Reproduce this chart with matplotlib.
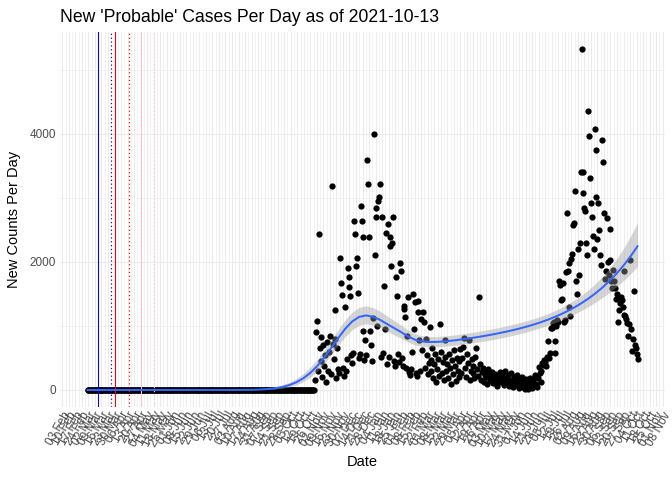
import numpy as np
import pandas as pd
import matplotlib
matplotlib.use("Agg")
import matplotlib.pyplot as plt
import matplotlib.dates as mdates
from matplotlib.ticker import FixedLocator

plt.rcParams["font.family"] = ["Liberation Sans", "DejaVu Sans"]

# ---------------- data ----------------
start_date = "2020-03-01"
title_text = "New 'Probable' Cases Per Day as of 2021-10-13"
n_zero_days = 244  # no probable cases reported before the autumn 2020 wave

wave_s1 = [150, 900, 1070, 300, 2440, 650, 450, 820, 200, 700, 380, 550, 120,
           750, 300, 600, 850, 250, 3180, 720, 480, 1255, 800, 180, 650, 330,
           260, 2067, 1677, 1489, 350, 220, 1302, 300]
wave_s2 = [480, 1911, 1770, 1614, 1469, 550, 420, 580, 2640, 2443, 1942, 2067,
           1520, 500, 560, 2880, 2640, 2390, 927, 470, 781, 540, 3590, 3214,
           2390, 927, 703, 450, 1130, 3990, 2100, 2700, 2840, 1005, 2948, 3020,
           3214, 520]
wave_s3 = [2700, 580, 1620, 948, 2458, 400, 2590, 520, 2250, 2395, 1937, 2302,
           2708, 450, 380, 1770, 1474, 560, 430, 1990, 1865, 500, 370, 1312,
           1270, 1146, 340, 844, 1458, 280, 230, 330, 600, 1505, 948, 1380, 260,
           210, 1223, 1395, 781, 300, 1109]
wave_s4 = [620, 1223, 1068, 350, 792, 550, 250, 420, 980, 470, 300, 650, 180,
           400, 560, 120, 330, 480, 210, 1031, 600, 260, 440, 150, 520, 781, 300,
           410, 180, 560, 350, 90, 470, 250, 620, 380, 140, 500, 300, 200, 450,
           640, 260]
wave_s5 = [500, 677, 812, 350, 200, 560, 420, 781, 150, 300, 480, 260, 380, 180,
           520, 651, 330, 220, 1448, 410, 160, 280, 350, 120, 240, 300, 200, 90,
           330, 260, 150, 220, 280, 110, 190, 250, 140, 60, 210, 170, 280, 120,
           200]
wave_s6 = [250, 150, 80, 300, 180, 120, 230, 60, 160, 260, 100, 40, 200, 140, 70,
           180, 230, 100, 30, 150, 90, 200, 50, 120, 10, 170, 80, 140, 20, 60,
           190, 110, 30, 160, 70, 230, 100, 50, 180, 364, 260, 300, 120]
wave_s7 = [417, 390, 460, 442, 380, 520, 770, 495, 583, 974, 964, 1052, 1068,
           583, 770, 1000, 1100, 1068, 1708, 1640, 1406, 1422, 1667, 1068, 1100,
           1839, 2760, 1864, 1980, 1300, 1150, 2042, 2125, 2578, 2614, 3114,
           1700, 1500, 2200, 1800, 2300, 3411, 5328]
wave_s8 = [3411, 3083, 2839, 2797, 2300, 2100, 4349, 3969, 3307, 2927, 2708,
           2400, 2200, 4073, 3740, 3020, 2359, 2927, 2500, 2100, 1950, 3896,
           3567, 2770, 1730, 1850, 2683, 2000, 1797, 2515, 2031, 1700]
wave_s9 = [1589, 1875, 1700, 1589, 1417, 1500, 1068, 1250, 1350, 1458, 1406,
           1300, 1172, 1864, 1150, 1104, 1050, 849, 1031, 2031, 950, 615, 800,
           1547, 700, 650, 560, 484]

event_dates = ["2020-03-12", "2020-03-31", "2020-04-27"]
event_colors = ["blue", "red", "pink"]
lag_days = 14

new_cases = ([0] * n_zero_days + wave_s1 + wave_s2 + wave_s3 + wave_s4 +
             wave_s5 + wave_s6 + wave_s7 + wave_s8 + wave_s9)
dates = pd.date_range(start_date, periods=len(new_cases), freq="D")
y = np.asarray(new_cases, dtype=float)

# ---------------- local quasi-Poisson quadratic smoother (log link) ----------------
t = (dates - dates[0]).days.values.astype(float)
n = len(t)
span = 0.85
q = int(np.floor(span * n))


def local_fit(x0):
    d = np.abs(t - x0)
    h = np.sort(d)[q - 1] * 1.0000001
    w = np.where(d < h, (1 - (d / h) ** 3) ** 3, 0.0)
    s = (t - x0) / h
    X = np.column_stack([np.ones(n), s, s ** 2])
    beta = np.array([np.log(np.sum(w * y) / np.sum(w) + 1.0), 0.0, 0.0])

    def ll(b):
        e = np.clip(X @ b, -60, 25)
        return np.sum(w * (y * e - np.exp(e)))

    cur = ll(beta)
    for _ in range(200):
        e = np.clip(X @ beta, -60, 25)
        mu = np.exp(e)
        g = X.T @ (w * (y - mu))
        H = X.T @ ((w * mu)[:, None] * X) + 1e-9 * np.eye(3)
        step_dir = np.linalg.solve(H, g)
        st = 1.0
        new = ll(beta + st * step_dir)
        while new < cur and st > 1e-6:
            st /= 2
            new = ll(beta + st * step_dir)
        beta = beta + st * step_dir
        if abs(new - cur) < 1e-10 * max(1.0, abs(cur)):
            cur = new
            break
        cur = new
    e = np.clip(X @ beta, -60, 25)
    mu = np.exp(e)
    H = X.T @ ((w * mu)[:, None] * X) + 1e-9 * np.eye(3)
    Hi = np.linalg.inv(H)
    M = X.T @ ((w ** 2 * mu)[:, None] * X)
    var0 = (Hi @ M @ Hi)[0, 0]
    return beta[0], var0


eta_data = np.array([local_fit(x0)[0] for x0 in t])
mu_data = np.exp(eta_data)
phi = np.sum((y - mu_data) ** 2 / np.maximum(mu_data, 1e-6)) / (n - 8)
phi = min(phi, 5000.0)

grid_t = np.linspace(t.min(), t.max(), 80)
res_g = [local_fit(x0) for x0 in grid_t]
eta_g = np.array([r[0] for r in res_g])
se_g = np.sqrt(phi * np.array([r[1] for r in res_g]))
fit = np.exp(eta_g)
lo = np.exp(eta_g - 1.96 * se_g)
hi = np.exp(eta_g + 1.96 * se_g)
grid_dates = dates[0] + pd.to_timedelta(grid_t, unit="D")

# ---------------- plot ----------------
fig = plt.figure(figsize=(7, 5), dpi=96)
ax = fig.add_axes([60 / 672, 1 - 407 / 480, 605 / 672, (407 - 31.7) / 480])

ax.scatter(dates, y, s=22, c="black", linewidths=0, zorder=3)

for d, c in zip(event_dates, event_colors):
    d0 = pd.Timestamp(d)
    ax.axvline(d0, color=c, lw=0.8, zorder=4)
    ax.axvline(d0 + pd.Timedelta(days=lag_days), color=c, lw=0.9,
               ls=(0, (1, 2.2)), zorder=4)

ax.fill_between(grid_dates, lo, hi, color="#999999", alpha=0.4, lw=0, zorder=5)
ax.plot(grid_dates, fit, color="#3366FF", lw=1.5, zorder=6)

# limits with ggplot-like 5% expansion around the observed counts
spanx = len(y) - 1
xmin = dates[0] - pd.Timedelta(days=0.05 * spanx)
xmax = dates[-1] + pd.Timedelta(days=0.05 * spanx)
ax.set_xlim(xmin, xmax)
yr = y.max() - y.min()
ax.set_ylim(y.min() - 0.05 * yr, y.max() + 0.05 * yr)

majors = pd.date_range(xmin.normalize(), xmax, freq="W-MON")
minors = [m - pd.Timedelta(hours=84) for m in majors] + [majors[-1] + pd.Timedelta(hours=84)]
minors = [m for m in minors if xmin <= m <= xmax]
ax.xaxis.set_major_locator(FixedLocator(mdates.date2num(majors)))
ax.xaxis.set_minor_locator(FixedLocator(mdates.date2num(minors)))
ax.xaxis.set_major_formatter(mdates.DateFormatter("%d %b"))
ax.set_yticks([0, 2000, 4000])
ax.set_yticks([1000, 3000, 5000], minor=True)
ax.set_yticklabels(["0", "2000", "4000"])

ax.grid(True, which="major", color="#EBEBEB", lw=0.8, zorder=0)
ax.grid(True, which="minor", color="#EBEBEB", lw=0.45, zorder=0)
ax.set_axisbelow(True)
for s in ax.spines.values():
    s.set_visible(False)
ax.tick_params(which="both", length=0)
ax.tick_params(axis="y", labelsize=8.8, labelcolor="#4D4D4D", pad=3)
ax.tick_params(axis="x", labelsize=8.8, labelcolor="#4D4D4D", pad=2)
for lab in ax.get_xticklabels():
    lab.set_rotation(60)
    lab.set_ha("right")
    lab.set_rotation_mode("anchor")

ax.set_xlabel("Date", fontsize=11, labelpad=4)
ax.set_ylabel("New Counts Per Day", fontsize=11, labelpad=6)
ax.set_title(title_text, loc="left", fontsize=13.2, pad=7)

fig.savefig("out.png", dpi=96)
